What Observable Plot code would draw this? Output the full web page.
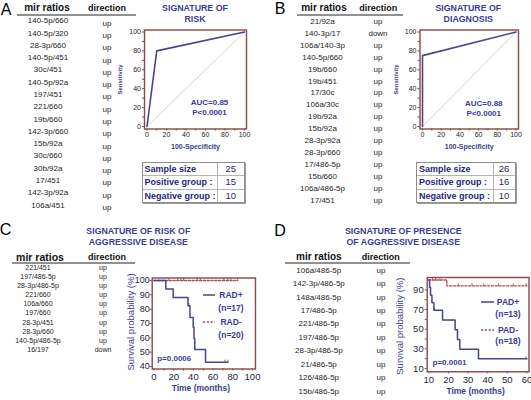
<!DOCTYPE html>
<html>
<head>
<meta charset="utf-8">
<script src="https://cdn.jsdelivr.net/npm/d3@7"></script>
<script src="https://cdn.jsdelivr.net/npm/@observablehq/plot@0.6"></script>
<style>
html,body{margin:0;padding:0;background:#fff;}
#fig{position:relative;width:531px;height:400px;overflow:hidden;background:#fff;font-family:"Liberation Sans",Arial,Helvetica,sans-serif;}
#fig .t{position:absolute;white-space:nowrap;line-height:1;}
#fig svg{position:absolute;}
</style>
</head>
<body>
<div id="fig"></div>
<script>
// ---------------- data ----------------
const mirA = ["140-5p/660","140-5p/320","28-3p/660","140-5p/451","30c/451","140-5p/92a","197/451","221/660","19b/660","142-3p/660","15b/92a","30c/660","30b/92a","17/451","142-3p/92a","106a/451"];
const dirA = ["up","up","up","up","up","up","up","up","up","up","up","up","up","up","up","up"];
const mirB = ["21/92a","140-3p/17","106a/140-3p","140-5p/660","19b/660","19b/451","17/30c","106a/30c","19b/92a","15b/92a","28-3p/92a","28-3p/660","17/486-5p","15b/660","106a/486-5p","17/451"];
const dirB = ["up","down","up","up","up","up","up","up","up","up","up","up","up","up","up","up"];
const mirC = ["221/451","197/486-5p","28-3p/486-5p","221/660","106a/660","197/660","28-3p/451","28-3p/660","140-5p/486-5p","16/197"];
const dirC = ["up","up","up","up","up","up","up","up","up","down"];
const mirD = ["106a/486-5p","142-3p/486-5p","148a/486-5p","17/486-5p","221/486-5p","197/486-5p","28-3p/486-5p","21/486-5p","126/486-5p","15b/486-5p"];
const dirD = ["up","up","up","up","up","up","up","up","up","up"];

const sampleLabels = ["Sample size", "Positive group :", "Negative group :"];
const sampleA = [25, 15, 10];
const sampleB = [26, 16, 10];

const rocAx = [0, 10, 100];
const rocAy = [0, 80, 100];
const rocBx = [0, 0, 100];
const rocBy = [0, 75, 100];
const diagX = [0, 100];
const diagY = [0, 100];
const aucA = "AUC=0.85", pA = "P<0.0001";
const aucB = "AUC=0.88", pB = "P<0.0001";
const rocTicks = [0, 10, 20, 30, 40, 50, 60, 70, 80, 90, 100];

// Kaplan-Meier, panel C
const radPosT = [0, 12, 19.5, 34.5, 36.5, 39.8, 40.6, 41.4, 52.3, 75];
const radPosS = [100, 94.1, 88.2, 82.4, 74.1, 67.4, 59.3, 51.8, 42.9, 42.9];
const radPosCT = [35.5, 72, 75];
const radPosCS = [82.4, 42.9, 42.9];
const radNegT = [0, 85];
const radNegS = [100, 100];
const radNegCT = [15, 24, 27, 30, 44, 47, 71, 75, 78, 85];
const radNegCS = [100, 100, 100, 100, 100, 100, 100, 100, 100, 100];
// Kaplan-Meier, panel D
const padPosT = [10, 10.4, 10.9, 11.6, 12.6, 17, 23.4, 24.6, 25.8, 35.3, 60];
const padPosS = [100, 92.3, 84.6, 76.9, 69.2, 59.3, 49.4, 39.5, 29.6, 19.8, 19.8];
const padPosCT = [12.9, 59.5];
const padPosCS = [69.2, 19.8];
const padNegT = [10, 19.2, 60];
const padNegS = [100, 94.1, 94.1];
const padNegCT = [11.8, 13.4, 15.6, 25, 32, 38, 45.5, 53, 59.5];
const padNegCS = [100, 100, 100, 94.1, 94.1, 94.1, 94.1, 94.1, 94.1];

const kmCxTicks = [0, 10, 20, 30, 40, 50, 60, 70, 80, 90, 100];
const kmCyTicks = [40, 50, 60, 70, 80, 90, 100];
const kmDxTicks = [10, 20, 30, 40, 50, 60];
const kmDyTicks = [10, 20, 30, 40, 50, 60, 70, 80, 90];
const pC = "p=0.0006", pD = "p=0.0001";
const legC = ["RAD+", "(n=17)", "RAD-", "(n=20)"];
const legD = ["PAD+", "(n=13)", "PAD-", "(n=18)"];

// ---------------- styles ----------------
const blue = "#3b3b98";
const navy = "#1f1f7a";
const ink = "#1c1c1c";
const frameC = "#8b4646";
const curveC = "#46468f";
const dashC = "#a3514c";
const FONT = "Liberation Sans, Arial, Helvetica, sans-serif";

const fig = document.getElementById("fig");
const zip = (xs, ys) => xs.map((x, i) => ({x, y: ys[i]}));

function T(str, cx, cy, o = {}) {
  const d = document.createElement("div");
  d.className = "t";
  d.textContent = str;
  d.style.left = cx + "px";
  d.style.top = cy + "px";
  d.style.fontSize = (o.size || 8) + "px";
  d.style.fontWeight = o.weight || "normal";
  d.style.color = o.color || ink;
  d.style.transform = o.anchor === "start" ? "translate(0,-50%)" : "translate(-50%,-50%)";
  fig.appendChild(d);
  return d;
}
function seg(x1, x2, y, color, w, dash) {
  const ns = "http://www.w3.org/2000/svg";
  const s = document.createElementNS(ns, "svg");
  s.setAttribute("width", x2 - x1 + 2);
  s.setAttribute("height", 6);
  s.style.left = (x1 - 1) + "px";
  s.style.top = (y - 3) + "px";
  const l = document.createElementNS(ns, "line");
  l.setAttribute("x1", 1); l.setAttribute("x2", x2 - x1 + 1);
  l.setAttribute("y1", 3); l.setAttribute("y2", 3);
  l.setAttribute("stroke", color); l.setAttribute("stroke-width", w);
  if (dash) l.setAttribute("stroke-dasharray", dash);
  s.appendChild(l);
  fig.appendChild(s);
}

function panelLetter(ch, cx, cy) { T(ch, cx, cy, {size: 16, color: "#000"}); }

function mirTable(names, dirs, o) {
  T("mir ratios", o.hx1, o.hy, {size: o.hs1, weight: "bold", color: "#111"});
  T("direction", o.hx2, o.hy, {size: 9, weight: "bold", color: "#111"});
  seg(o.ux1, o.ux2, o.uy, "#222", 1);
  names.forEach((n, i) => {
    const y = o.y0 + i * o.dy;
    T(n, o.nx, y, {size: o.fs, color: ink});
    T(dirs[i], o.dx, y + o.off, {size: o.fs, color: ink});
  });
}

function sampleTable(vals, left, top, w, c1, rowH) {
  const t = document.createElement("div");
  t.style.position = "absolute";
  t.style.left = left + "px";
  t.style.top = top + "px";
  t.style.width = w + "px";
  t.style.border = "1px solid #8d8d8d";
  t.style.boxShadow = "1px 1px 0 #9a9a9a";
  t.style.background = "#fff";
  vals.forEach((v, i) => {
    const r = document.createElement("div");
    r.style.display = "flex";
    r.style.height = rowH + "px";
    if (i > 0) r.style.borderTop = "1px solid #b5b5b5";
    const a = document.createElement("div");
    a.textContent = sampleLabels[i];
    a.style.cssText = `width:${c1}px;border-right:1px solid #b5b5b5;font-size:9px;font-weight:bold;color:${navy};line-height:${rowH}px;padding-left:2px;box-sizing:border-box;white-space:nowrap;`;
    const b = document.createElement("div");
    b.textContent = v;
    b.style.cssText = `flex:1;text-align:center;font-size:9.5px;color:#2a2a5a;line-height:${rowH}px;`;
    r.appendChild(a); r.appendChild(b);
    t.appendChild(r);
  });
  fig.appendChild(t);
}

function place(svg, box) {
  svg.style.left = box.l + "px";
  svg.style.top = box.t + "px";
  fig.appendChild(svg);
}

function basePlot(box, frame, x, y, marks) {
  return Plot.plot({
    width: box.w, height: box.h,
    marginLeft: frame.l - box.l, marginRight: box.l + box.w - frame.r,
    marginTop: frame.t - box.t, marginBottom: box.t + box.h - frame.b,
    x: {domain: x.domain, range: x.px.map(p => p - box.l), label: null},
    y: {domain: y.domain, range: y.px.map(p => p - box.t), label: null},
    style: {background: "transparent", fontFamily: FONT, overflow: "visible"},
    marks
  });
}

function rocPlot(box, frame, xpx, ypx, cx, cy, auc, p, adx, ady) {
  const svg = basePlot(box, frame, {domain: [0, 100], px: xpx}, {domain: [0, 100], px: ypx}, [
    Plot.line(zip(diagX, diagY), {x: "x", y: "y", stroke: "#c6c6c6", strokeWidth: 0.8}),
    Plot.line(zip(cx, cy), {x: "x", y: "y", stroke: curveC, strokeWidth: 1.6}),
    Plot.frame({stroke: frameC, strokeWidth: 1.4}),
    Plot.axisX({ticks: rocTicks, tickFormat: d => d % 20 ? "" : d, tickSize: 2, tickPadding: 1.5, stroke: frameC, fill: "#222", fontSize: 7, label: null}),
    Plot.axisY({ticks: rocTicks, tickFormat: d => d % 20 ? "" : d, tickSize: 2, tickPadding: 1.5, stroke: frameC, fill: "#222", fontSize: 7, label: null}),
    Plot.text([auc + "\n" + p], {text: d => d, frameAnchor: "bottom", dx: adx, dy: ady, textAnchor: "middle", lineAnchor: "middle", lineHeight: 1.25, fontSize: 8, fontWeight: "bold", fill: blue}),
    Plot.text(["Sensitivity"], {text: d => d, frameAnchor: "left", dx: -24, rotate: -90, textAnchor: "middle", lineAnchor: "middle", fontSize: 6, fontWeight: "bold", fill: blue}),
    Plot.text(["100-Specificity"], {text: d => d, frameAnchor: "bottom", dy: 17.5, textAnchor: "middle", lineAnchor: "middle", fontSize: 7, fontWeight: "bold", fill: blue})
  ]);
  place(svg, box);
}

function kmPlot(box, frame, x, y, xt, xlab, yt, ylab, pos, neg, pv, o) {
  const svg = basePlot(box, frame, x, y, [
    Plot.line(zip(neg.t, neg.s), {x: "x", y: "y", curve: "step-after", stroke: dashC, strokeWidth: 1.3, strokeDasharray: "2.2,1.6"}),
    Plot.ruleX(zip(neg.ct, neg.cs), {x: "x", y1: "y", y2: "y", insetTop: -2.2, insetBottom: -1, stroke: dashC, strokeWidth: 0.8}),
    Plot.line(zip(pos.t, pos.s), {x: "x", y: "y", curve: "step-after", stroke: curveC, strokeWidth: 1.5}),
    Plot.ruleX(zip(pos.ct, pos.cs), {x: "x", y1: "y", y2: "y", insetTop: -2.2, insetBottom: -1, stroke: curveC, strokeWidth: 0.8}),
    Plot.frame({stroke: frameC, strokeWidth: 1.4}),
    Plot.axisX({ticks: xt, tickFormat: xlab, tickSize: 2, tickPadding: 2, stroke: frameC, fill: "#1e1e3a", fontSize: 9.5, label: null}),
    Plot.axisY({ticks: yt, tickFormat: ylab, tickSize: 2, tickPadding: o.ypad, stroke: frameC, fill: "#1e1e3a", fontSize: o.yfs, label: null}),
    Plot.text([pv], {text: d => d, frameAnchor: "bottom-left", dx: o.pdx, dy: o.pdy, textAnchor: "start", lineAnchor: "middle", fontSize: 8, fontWeight: "bold", fill: blue}),
    Plot.text(["Survival probability (%)"], {text: d => d, frameAnchor: "left", dx: o.sdx, dy: o.sdy, rotate: -90, textAnchor: "middle", lineAnchor: "middle", fontSize: 9.5, fill: blue}),
    Plot.text(["Time (months)"], {text: d => d, frameAnchor: "bottom", dx: o.tdx, dy: o.tdy, textAnchor: "middle", lineAnchor: "middle", fontSize: 8.5, fontWeight: "bold", fill: blue})
  ]);
  place(svg, box);
}

// ---------------- Panel A ----------------
panelLetter("A", 6, 10);
mirTable(mirA, dirA, {hx1: 47, hx2: 107, hy: 7.5, hs1: 10, ux1: 17, ux2: 136, uy: 15, y0: 21.3, dy: 12.28, nx: 48, dx: 107, off: 2.5, fs: 8});
T("SIGNATURE OF", 195, 7.5, {size: 8.8, weight: "bold", color: blue});
T("RISK", 195, 18.5, {size: 8.8, weight: "bold", color: blue});
rocPlot({l: 100, t: 22, w: 155, h: 135}, {l: 144, r: 246, t: 29.5, b: 128.5}, [146.5, 244], [126, 31.5], rocAx, rocAy, aucA, pA, 14, -22.5);
sampleTable(sampleA, 141.5, 162, 101.5, 75, 12.4);

// ---------------- Panel B ----------------
panelLetter("B", 280, 9);
mirTable(mirB, dirB, {hx1: 324, hx2: 378.3, hy: 7.5, hs1: 10, ux1: 297, ux2: 403, uy: 15, y0: 22, dy: 11.9, nx: 322.5, dx: 378, off: 0, fs: 8});
T("SIGNATURE OF", 468.3, 7.5, {size: 8.8, weight: "bold", color: blue});
T("DIAGNOSIS", 468.3, 18.5, {size: 8.8, weight: "bold", color: blue});
rocPlot({l: 375, t: 22, w: 156, h: 135}, {l: 419.5, r: 518, t: 29.5, b: 128.5}, [422, 515.5], [126, 31.5], rocBx, rocBy, aucB, pB, 14.5, -21);
sampleTable(sampleB, 416, 162, 97.5, 76.5, 12.4);

// ---------------- Panel C ----------------
panelLetter("C", 5.5, 230);
T("SIGNATURE OF RISK OF", 138.3, 231, {size: 8.8, weight: "bold", color: blue});
T("AGGRESSIVE DISEASE", 138.3, 241.5, {size: 8.8, weight: "bold", color: blue});
mirTable(mirC, dirC, {hx1: 40, hx2: 107, hy: 257, hs1: 10.5, ux1: 12, ux2: 135, uy: 262.5, y0: 266.7, dy: 9.15, nx: 38, dx: 103, off: 0, fs: 7});
kmPlot({l: 120, t: 268, w: 140, h: 130}, {l: 151.7, r: 255, t: 277.5, b: 368.5},
  {domain: [0, 100], px: [153.5, 252]}, {domain: [40, 100], px: [366, 280]},
  kmCxTicks, d => d % 20 ? "" : d, kmCyTicks, d => d,
  {t: radPosT, s: radPosS, ct: radPosCT, cs: radPosCS},
  {t: radNegT, s: radNegS, ct: radNegCT, cs: radNegCS},
  pC, {ypad: 0.5, yfs: 9, pdx: 5, pdy: -10.5, sdx: -21.5, sdy: -1.5, tdx: -3, tdy: 19.5});
seg(203, 215, 295, curveC, 1.5);
T(legC[0], 231, 295, {size: 8.5, weight: "bold", color: blue});
T(legC[1], 231, 308, {size: 8.5, weight: "bold", color: blue});
seg(203, 215, 321.5, dashC, 1.3, "2.2,1.6");
T(legC[2], 231, 322, {size: 8.5, weight: "bold", color: blue});
T(legC[3], 231, 334.5, {size: 8.5, weight: "bold", color: blue});

// ---------------- Panel D ----------------
panelLetter("D", 280, 231);
T("SIGNATURE OF PRESENCE", 403.3, 231, {size: 8.8, weight: "bold", color: blue});
T("OF AGGRESSIVE DISEASE", 403.3, 241.5, {size: 8.8, weight: "bold", color: blue});
mirTable(mirD, dirD, {hx1: 318.8, hx2: 380.8, hy: 256.5, hs1: 10, ux1: 285, ux2: 410, uy: 263, y0: 270.7, dy: 13.44, nx: 318.8, dx: 381, off: 0, fs: 8});
kmPlot({l: 390, t: 268, w: 141, h: 130}, {l: 426.7, r: 528.5, t: 277, b: 371.3},
  {domain: [10, 60], px: [428.3, 526.5]}, {domain: [10, 100], px: [368, 279.5]},
  kmDxTicks, d => d, kmDyTicks, d => d % 20 ? d : "",
  {t: padPosT, s: padPosS, ct: padPosCT, cs: padPosCS},
  {t: padNegT, s: padNegS, ct: padNegCT, cs: padNegCS},
  pD, {ypad: 1.5, yfs: 9.5, pdx: 5.3, pdy: -9.6, sdx: -27.5, sdy: 1.5, tdx: -2.5, tdy: 19.7});
seg(481, 494, 302, curveC, 1.5);
T(legD[0], 508, 302, {size: 8.5, weight: "bold", color: blue});
T(legD[1], 508, 313.5, {size: 8.5, weight: "bold", color: blue});
seg(481, 494, 330, dashC, 1.3, "2.2,1.6");
T(legD[2], 508, 330, {size: 8.5, weight: "bold", color: blue});
T(legD[3], 508, 340.5, {size: 8.5, weight: "bold", color: blue});
</script>
</body>
</html>
